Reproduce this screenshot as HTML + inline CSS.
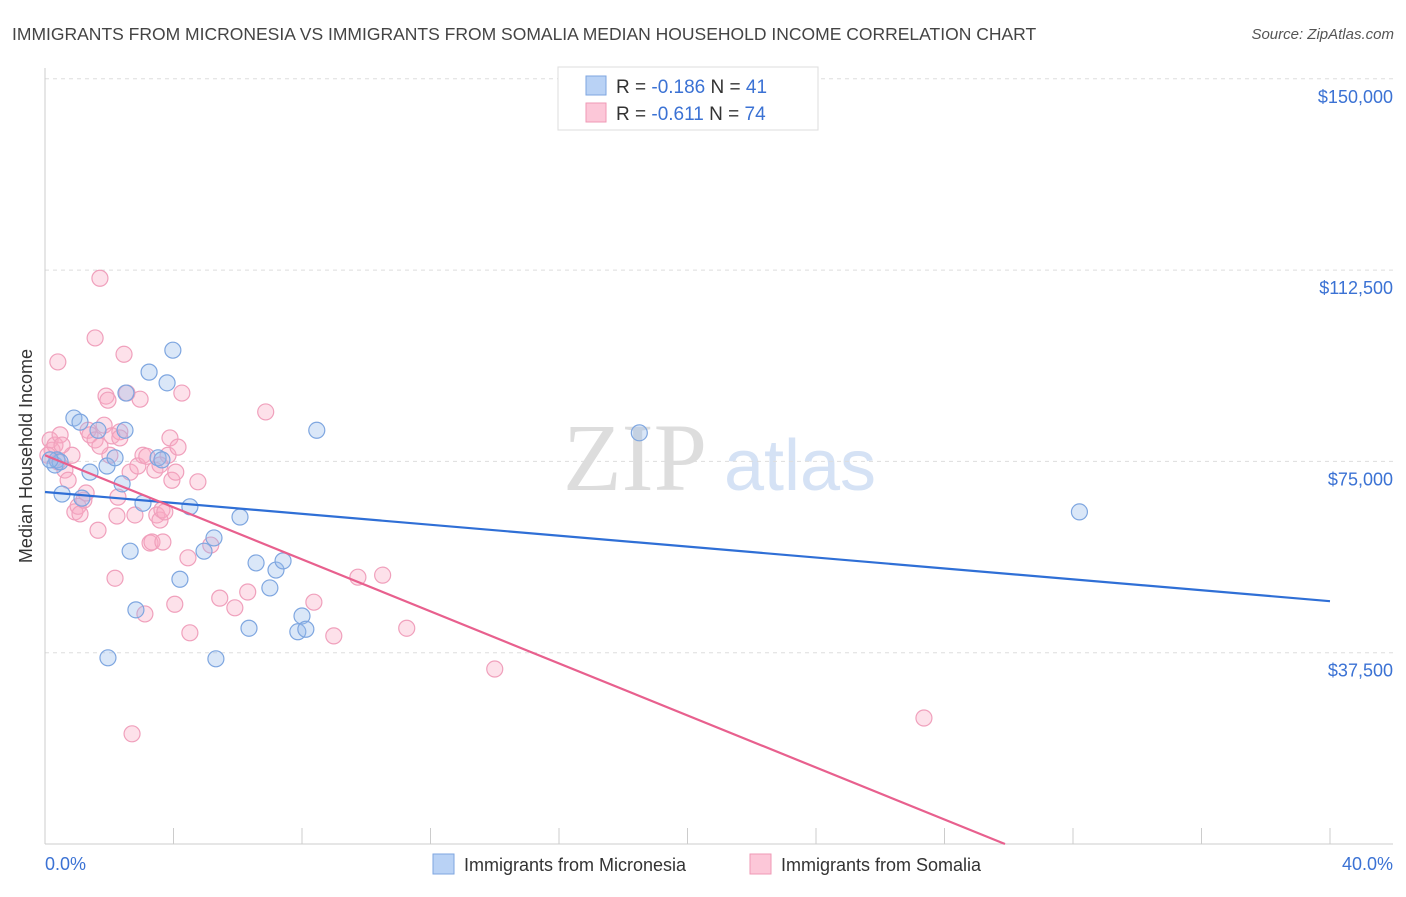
<!DOCTYPE html>
<html><head><meta charset="utf-8"><style>
body{margin:0;background:#fff;font-family:"Liberation Sans",sans-serif}
</style></head><body>
<svg id="c" width="1406" height="892" xmlns="http://www.w3.org/2000/svg" style="font-family:'Liberation Sans',sans-serif">
<text x="12" y="40" font-size="17.5" fill="#444">IMMIGRANTS FROM MICRONESIA VS IMMIGRANTS FROM SOMALIA MEDIAN HOUSEHOLD INCOME CORRELATION CHART</text>
<text x="1394" y="39" font-size="15" fill="#555" font-style="italic" text-anchor="end">Source: ZipAtlas.com</text>
<text x="32" y="456" font-size="18" fill="#333" text-anchor="middle" transform="rotate(-90 32 456)">Median Household Income</text>
<g><text x="635" y="490" font-size="96" fill="#ddd" font-family="Liberation Serif" text-anchor="middle">ZIP</text><text x="800" y="490" font-size="72" fill="#d5e2f5" text-anchor="middle">atlas</text></g>
<g id="grid"></g><g id="pts"></g><g id="trend"></g>
<g>
<rect x="558" y="67" width="260" height="63" fill="#fff" stroke="#ddd"/>
<rect x="586" y="76" width="20" height="19" fill="#b9d2f5" stroke="#7ea6e0"/>
<rect x="586" y="103" width="20" height="19" fill="#fcc7d8" stroke="#ef9ab6"/>
<text x="616" y="93" font-size="19" fill="#333">R = <tspan fill="#3b72d4">-0.186</tspan>   N = <tspan fill="#3b72d4">41</tspan></text>
<text x="616" y="120" font-size="19" fill="#333">R =  <tspan fill="#3b72d4">-0.611</tspan>   N = <tspan fill="#3b72d4">74</tspan></text>
</g>
<g>
<rect x="433" y="854" width="21" height="20" fill="#b9d2f5" stroke="#7ea6e0"/>
<text x="464" y="871" font-size="18" fill="#333">Immigrants from Micronesia</text>
<rect x="750" y="854" width="21" height="20" fill="#fcc7d8" stroke="#ef9ab6"/>
<text x="781" y="871" font-size="18" fill="#333">Immigrants from Somalia</text>
</g>
<text x="45" y="870" font-size="18" fill="#3b72d4">0.0%</text>
<text x="1393" y="870" font-size="18" fill="#3b72d4" text-anchor="end">40.0%</text>
</svg>
<script>
const yTicks=[37500,75000,112500,150000];
const yTickLabels=["$37,500","$75,000","$112,500","$150,000"];
const blueX=[0.31,0.90,0.37,0.53,1.09,1.40,1.65,1.93,2.18,2.40,2.49,2.65,2.52,2.83,3.05,3.24,3.52,3.64,3.80,3.98,4.20,4.51,4.95,5.26,5.32,6.07,6.35,6.57,7.00,7.19,7.41,7.87,8.00,8.12,8.46,18.5,32.2,1.96,1.15,0.47,0.16];
const blueY=[74.3,83.5,75.3,68.6,82.7,72.9,81.1,74.1,75.7,70.6,81.1,57.4,88.4,45.9,66.8,92.5,75.7,75.3,90.4,96.8,51.9,66.1,57.4,60.0,36.3,64.1,42.3,55.1,50.2,53.7,55.5,41.6,44.7,42.1,81.1,80.6,65.1,36.5,67.8,74.9,75.3];
const pinkX=[0.16,0.22,0.31,0.40,0.47,0.62,0.72,0.84,0.93,1.03,1.09,1.21,1.34,1.40,1.56,1.65,1.71,1.56,1.84,1.90,2.02,2.08,2.18,2.24,2.27,2.33,2.46,2.55,2.65,2.71,2.80,2.89,2.96,3.05,3.11,3.17,3.27,3.33,3.42,3.48,3.58,3.64,3.67,3.83,3.89,3.95,4.04,4.07,4.14,4.26,4.45,4.51,4.76,5.16,5.44,5.91,6.31,6.87,8.37,8.99,9.74,10.51,11.26,14.0,27.36,0.40,0.09,0.53,1.28,1.71,2.33,1.96,3.58,3.73];
const pinkY=[79.2,77.2,78.2,74.9,80.2,73.3,71.3,76.2,65.1,66.2,64.7,67.4,81.1,80.2,79.2,61.5,110.9,99.2,82.1,87.8,76.2,80.0,52.1,64.3,68.0,80.8,96.0,88.4,72.9,21.6,64.5,74.1,87.2,76.2,45.1,76.0,59.0,59.2,73.3,64.5,63.5,65.5,59.2,76.2,79.6,71.3,47.0,72.9,77.8,88.4,56.1,41.4,71.0,58.6,48.2,46.3,49.4,84.7,47.4,40.8,52.3,52.7,42.3,34.3,24.7,94.5,76.2,78.2,68.8,78.0,79.6,87.0,74.3,65.1];
const blueTrend=[69.0,47.6];
const pinkTrend=[76.2,-2.55];
const NS="http://www.w3.org/2000/svg";
const xS=v=>45+v/40*1285, yS=v=>844-v/37.5*191.3;
function mk(t,a,p){const e=document.createElementNS(NS,t);for(const k in a)e.setAttribute(k,a[k]);p.appendChild(e);return e;}
const g=document.getElementById('grid');
yTicks.forEach((t,i)=>{const y=yS(t/1000);
const l=mk('line',{x1:45,x2:1393,y1:y,y2:y,stroke:'#ddd','stroke-dasharray':'4,4'},g);


const tx=mk('text',{x:1393,y:y+24,'font-size':18,fill:'#3b72d4','text-anchor':'end'},g);tx.textContent=yTickLabels[i];

});
const ax=mk('line',{x1:45,x2:1393,y1:844,y2:844,stroke:'#ccc'},g);


const ay=mk('line',{x1:45,x2:45,y1:68,y2:844,stroke:'#ccc'},g);


for(let i=0;i<=10;i++){const x=xS(i*4);const tk=mk('line',{x1:x,x2:x,y1:828,y2:844,stroke:'#ccc'},g);

}
const p=document.getElementById('pts');
pinkX.forEach((v,i)=>{const c=mk('circle',{cx:xS(v),cy:yS(pinkY[i]),r:8,fill:'rgba(248,170,196,0.35)',stroke:'#f0a0bc','stroke-width':1.2},p);

});
blueX.forEach((v,i)=>{const c=mk('circle',{cx:xS(v),cy:yS(blueY[i]),r:8,fill:'rgba(150,185,235,0.35)',stroke:'#7ea6e0','stroke-width':1.2},p);

});
const tr=document.getElementById('trend');
const bl=mk('line',{x1:xS(0),y1:yS(blueTrend[0]),x2:xS(40),y2:yS(blueTrend[1]),stroke:'#2f6fd6','stroke-width':2.2},tr);


const xEnd=Math.min(40,-pinkTrend[0]/pinkTrend[1]);
const pl=mk('line',{x1:xS(0),y1:yS(pinkTrend[0]),x2:xS(xEnd),y2:yS(pinkTrend[0]+pinkTrend[1]*xEnd),stroke:'#e8608e','stroke-width':2.2},tr);


</script>
</body></html>
